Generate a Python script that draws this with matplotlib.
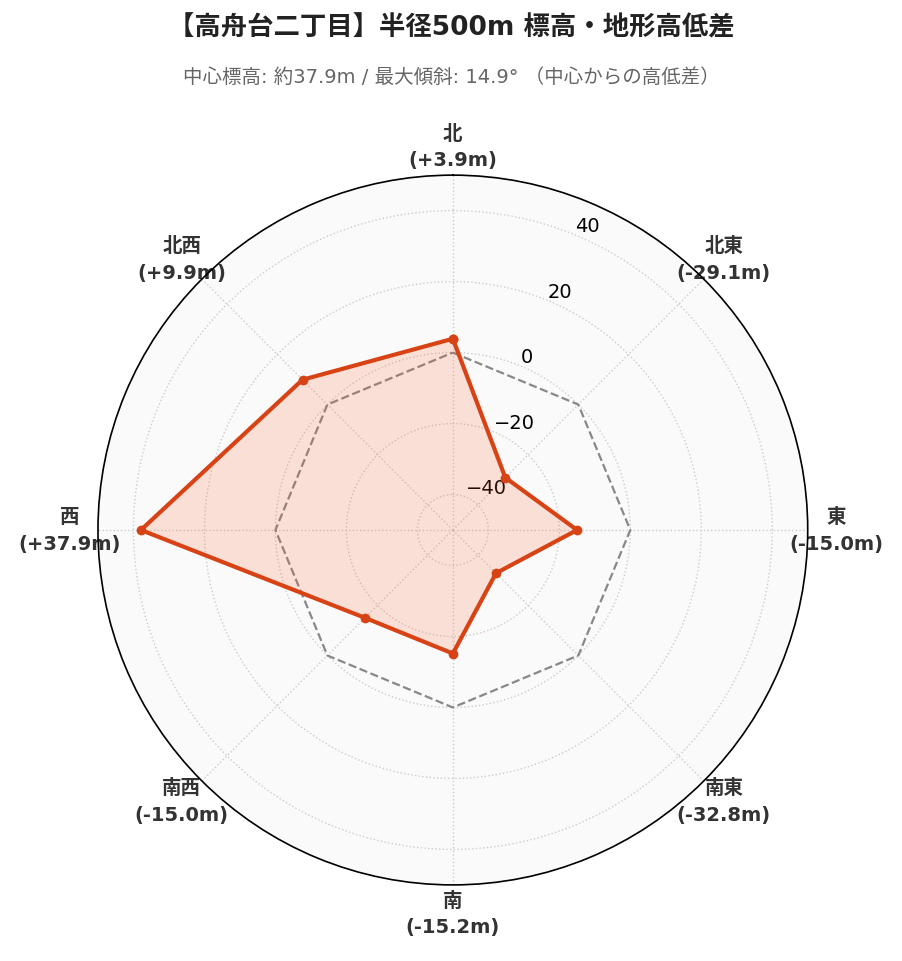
import numpy as np
import matplotlib
matplotlib.use("Agg")
import matplotlib.pyplot as plt

plt.rcParams['font.family'] = ['DejaVu Sans', 'Noto Sans CJK JP']

# 方位と中心からの高低差 (m)
directions = ['北', '北東', '東', '南東', '南', '南西', '西', '北西']
diffs = [3.9, -29.1, -15.0, -32.8, -15.2, -15.0, 37.9, 9.9]
r_ticks = [-40, -20, 0, 20, 40]
r_limits = (-50, 50)

title = '【高舟台二丁目】半径500m 標高・地形高低差'
subtitle = '中心標高: 約37.9m / 最大傾斜: 14.9° （中心からの高低差）'

angles = np.linspace(0, 2 * np.pi, len(directions), endpoint=False)
closed_angles = np.append(angles, angles[0])
closed_diffs = np.append(diffs, diffs[0])

fig = plt.figure(figsize=(9.03, 9.62), dpi=100)
ax = fig.add_axes([0.1085, 0.079, 0.786, 0.738], projection='polar')
ax.set_theta_zero_location('N')
ax.set_theta_direction(-1)
ax.set_facecolor('#fafafa')

# 基準線 (0m)
ax.plot(closed_angles, np.zeros_like(closed_angles), color='#888888',
        linestyle='--', linewidth=1.6, zorder=2)

# 高低差
ax.fill(closed_angles, closed_diffs, color='#FF5722', alpha=0.16, zorder=3)
ax.plot(closed_angles, closed_diffs, color='#D84315', linewidth=3,
        marker='o', markersize=6, zorder=4)

ax.set_ylim(*r_limits)
ax.set_yticks(r_ticks)
ax.set_rlabel_position(22.5)
ax.tick_params(axis='y', labelsize=14, labelcolor='black')

labels = [f'{d}\n({v:+.1f}m)' for d, v in zip(directions, diffs)]
ax.set_xticks(angles)
ax.set_xticklabels(labels, fontsize=14, fontweight='bold', color='#333333',
                   linespacing=1.5)
ax.tick_params(axis='x', pad=10)

ax.grid(True, color='#cccccc', linestyle=':', linewidth=1)
ax.spines['polar'].set_color('black')
ax.spines['polar'].set_linewidth(1.2)

fig.text(0.5, 0.970, title, ha='center', va='center', fontsize=19,
         fontweight='bold', color='#222222')
fig.text(0.5, 0.920, subtitle, ha='center', va='center', fontsize=14,
         color='#666666')

fig.savefig('out.png', dpi=100)
plt.close(fig)
